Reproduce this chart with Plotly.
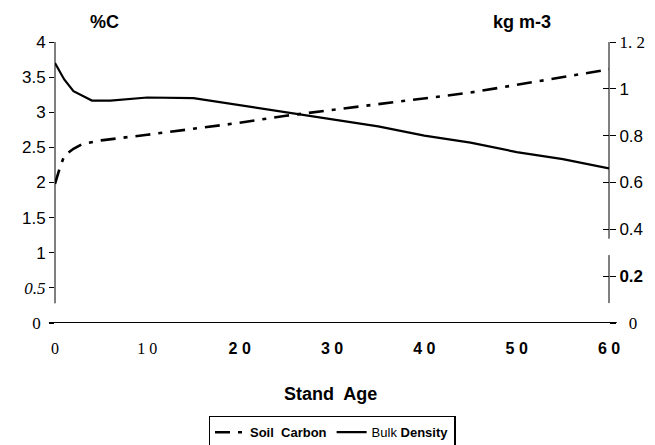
import plotly.graph_objects as go

# ---- data ----
age_carbon = [0, 0.5, 1, 2, 3, 5, 10, 15, 20, 25, 30, 35, 40, 45, 50, 55, 60]
soil_carbon = [1.98, 2.2, 2.38, 2.48, 2.55, 2.6, 2.68, 2.76, 2.85, 2.95, 3.03, 3.11, 3.19, 3.28, 3.39, 3.5, 3.61]

age_bulk = [0, 1, 2, 4, 6, 10, 15, 20, 25, 30, 35, 40, 45, 50, 55, 60]
bulk_density = [1.11, 1.04, 0.99, 0.95, 0.95, 0.963, 0.96, 0.93, 0.90, 0.87, 0.84, 0.80, 0.77, 0.73, 0.70, 0.66]

x_ticks = [0, 10, 20, 30, 40, 50, 60]
x_ticktext = ['<span style="font-family:Liberation Serif">0</span>',
              '<span style="font-family:Liberation Serif">1 0</span>',
              '<b>2 0</b>', '<b>3 0</b>', '<b>4 0</b>', '<b>5 0</b>', '<b>6 0</b>']

left_ticks = [0, 0.5, 1, 1.5, 2, 2.5, 3, 3.5, 4]
left_ticktext = ['<span style="font-family:Liberation Serif">0</span>&nbsp;',
                 '<span style="font-family:Liberation Serif"><i>0.5</i></span>',
                 '1', '1.5', '2', '2.5', '3', '3.5', '4']

right_ticks = [0, 0.2, 0.4, 0.6, 0.8, 1.0, 1.2]
right_ticktext = ['&nbsp;&nbsp;<span style="font-family:Liberation Serif">0</span>',
                  '<b>0.2</b>', '0.4', '0.6', '0.8', '1',
                  '<span style="font-family:Liberation Serif">1. 2</span>']

SANS = "Liberation Sans, Arial, sans-serif"

fig = go.Figure()
fig.add_trace(go.Scatter(
    x=age_carbon, y=soil_carbon, name="<b>Soil  Carbon</b>", mode="lines",
    line=dict(color="black", width=2.6, dash="15px,8px,4px,8px"), yaxis="y"))
fig.add_trace(go.Scatter(
    x=age_bulk, y=bulk_density, name="Bulk <b>Density</b>", mode="lines",
    line=dict(color="black", width=2.2), yaxis="y2"))
# invisible trace to activate the inner tick axis on the right
fig.add_trace(go.Scatter(x=[None], y=[None], yaxis="y3", showlegend=False, hoverinfo="skip"))

# axis lines (broken as in the original)
fig.add_shape(type="line", xref="paper", yref="y", x0=0, x1=0, y0=0.28, y1=4,
              line=dict(color="black", width=1))
fig.add_shape(type="line", xref="paper", yref="y2", x0=1, x1=1, y0=0.36, y1=1.2,
              line=dict(color="black", width=1))
fig.add_shape(type="line", xref="paper", yref="y2", x0=1, x1=1, y0=0.085, y1=0.29,
              line=dict(color="black", width=1))
fig.add_shape(type="line", xref="paper", yref="y", x0=-0.011, x1=1.014, y0=0, y1=0,
              line=dict(color="black", width=2.2))

# page body adds an 8px offset, so the figure is 8px smaller on each dimension
fig.update_layout(
    width=647, height=437,
    margin=dict(l=47, r=46, t=34, b=122, autoexpand=False),
    plot_bgcolor="white", paper_bgcolor="white",
    font=dict(family=SANS, color="black", size=17),
    showlegend=True,
    legend=dict(orientation="h", x=0.5, xanchor="center", y=-0.33, yanchor="top",
                bordercolor="black", borderwidth=1.5, font=dict(size=13, family=SANS),
                itemwidth=30, tracegroupgap=0),
    xaxis=dict(range=[0, 60], tickvals=x_ticks, ticktext=x_ticktext, showline=False,
               showgrid=False, zeroline=False, ticks="", ticklabelstandoff=14,
               tickfont=dict(size=16)),
    yaxis=dict(range=[0, 4], tickvals=left_ticks, ticktext=left_ticktext, showline=False,
               showgrid=False, zeroline=False, ticks="outside", ticklen=5, tickwidth=1,
               tickcolor="black", tickfont=dict(size=17)),
    yaxis2=dict(range=[0, 1.2], overlaying="y", side="right", tickvals=right_ticks,
                ticktext=right_ticktext, showline=False, showgrid=False, zeroline=False,
                ticks="outside", ticklen=6, tickwidth=1, tickcolor="black",
                tickfont=dict(size=17)),
    yaxis3=dict(range=[0, 1.2], overlaying="y", side="right", tickvals=right_ticks[1:],
                showticklabels=False, showline=False, showgrid=False, zeroline=False,
                ticks="inside", ticklen=6, tickwidth=1, tickcolor="black"),
    annotations=[
        dict(text="<b>%C</b>", xref="paper", yref="paper", x=0.06, y=1.071,
             yanchor="middle", showarrow=False, font=dict(size=18)),
        dict(text="<b>kg m-3</b>", xref="paper", yref="paper", x=0.899, y=1.071,
             yanchor="middle", showarrow=False, font=dict(size=18)),
        dict(text="<b>Stand  Age</b>", xref="paper", yref="paper", x=0.497, y=-0.253,
             yanchor="middle", showarrow=False, font=dict(size=18)),
    ],
)

fig.write_html("out.html")
